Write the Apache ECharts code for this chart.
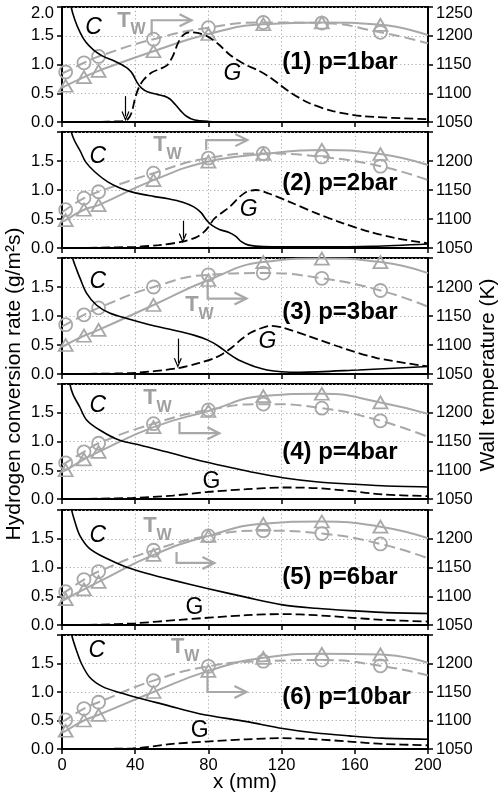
<!DOCTYPE html>
<html><head><meta charset="utf-8">
<script src="https://cdn.jsdelivr.net/npm/echarts@6/dist/echarts.min.js"></script>
<style>html,body{margin:0;padding:0;background:#fff}#c{width:500px;height:792px}</style>
</head><body><div id="c"></div>
<script>
// ---------- DATA ----------
const xTicks = [0, 40, 80, 120, 160, 200];
const leftTicks = [0, 0.5, 1.0, 1.5, 2.0];
const rightTicks = [1050, 1100, 1150, 1200, 1250];
const pressures = ['1', '2', '3', '4', '6', '10'];

// wall temperature (K) at these x (mm); markers at interior points
const twX = [0, 2, 12, 20, 50, 80, 110, 142, 174, 200];
const twCircle1 = [1134, 1137, 1153, 1164, 1194, 1214, 1223, 1222, 1206, 1187];
const twTriangle1 = [1109, 1113, 1128, 1139, 1173, 1203, 1220, 1223, 1219, 1201];
const twCircle2 = [1112, 1116, 1136, 1147, 1179, 1205, 1213, 1207, 1191, 1167];
const twTriangle2 = [1095, 1098, 1116, 1124, 1167, 1199, 1212, 1219, 1212, 1193];
const twCircle3 = [1132, 1135, 1152, 1164, 1200, 1221, 1224, 1215, 1194, 1166];
const twTriangle3 = [1097, 1100, 1116, 1126, 1169, 1212, 1243, 1249, 1243, 1224];
const twCircle4 = [1110, 1113, 1132, 1147, 1181, 1205, 1215, 1208, 1186, 1158];
const twTriangle4 = [1097, 1100, 1119, 1132, 1175, 1203, 1229, 1233, 1218, 1198];
const twCircle5 = [1105, 1108, 1129, 1143, 1180, 1205, 1214, 1209, 1191, 1166];
const twTriangle5 = [1092, 1095, 1112, 1125, 1172, 1205, 1226, 1230, 1221, 1201];
const twCircle6 = [1098, 1101, 1121, 1132, 1170, 1195, 1204, 1206, 1196, 1179];
const twTriangle6 = [1079, 1082, 1100, 1110, 1150, 1187, 1210, 1217, 1216, 1201];

// hydrogen conversion rate C (solid) and G (dashed), [x (mm), g/m2s]
const cRate1 = [[0,3.2],[3,2.4],[5,2.0],[7,1.78],[10,1.55],[13,1.39],[17,1.26],[22,1.15],[28,1.07],[33,0.99],[36,0.93],[38.5,0.84],[41,0.69],[43.5,0.59],[47,0.52],[52,0.48],[56,0.45],[59,0.40],[62,0.30],[65,0.19],[68,0.10],[72,0.04],[80,0.01],[90,0],[200,0]];
const gRate1 = [[0,0],[20,0.003],[30,0.01],[34,0.02],[36,0.05],[38,0.16],[40,0.42],[42,0.60],[44.5,0.73],[49,0.86],[54,0.93],[57.5,0.99],[60.5,1.14],[63.5,1.38],[66.5,1.52],[70,1.56],[74,1.55],[80,1.48],[86,1.34],[92,1.16],[100,1.0],[107,0.9],[113,0.79],[119,0.65],[125,0.51],[135,0.33],[148,0.19],[165,0.10],[200,0.05]];
const cRate2 = [[0,3.2],[3,2.4],[5.1,2.0],[7,1.84],[10,1.67],[13,1.48],[18,1.31],[25,1.14],[32,1.03],[40,0.95],[50,0.89],[58,0.85],[66,0.79],[72,0.71],[76,0.61],[79,0.48],[82,0.39],[86,0.32],[91,0.27],[95,0.2],[98,0.11],[102,0.05],[110,0.025],[140,0.02],[170,0.03],[200,0.07]];
const gRate2 = [[0,0],[20,0.005],[40,0.02],[53,0.05],[66,0.11],[73,0.18],[77,0.26],[80,0.36],[83,0.5],[87,0.6],[92,0.72],[97,0.88],[101,0.97],[106,1.0],[113,0.94],[124,0.80],[138.8,0.6],[153.3,0.43],[168,0.28],[182.4,0.17],[200,0.08]];
const cRate3 = [[0,3.2],[3,2.45],[5.8,2.0],[8,1.8],[10,1.64],[13.3,1.40],[18.8,1.19],[26,1.05],[35,0.96],[47.8,0.85],[60.5,0.76],[72,0.67],[80,0.58],[86,0.47],[91,0.35],[96,0.25],[101,0.18],[106,0.12],[112,0.07],[120,0.04],[130,0.03],[162,0.07],[200,0.13]];
const gRate3 = [[0,0],[20,0.005],[40,0.02],[63.3,0.10],[75,0.19],[83,0.27],[88,0.35],[93,0.46],[98,0.6],[103,0.71],[108,0.78],[114,0.83],[120.6,0.80],[135,0.65],[153.3,0.45],[171.5,0.28],[200,0.13]];
const cRate4 = [[0,3.1],[2.5,2.35],[4.3,2.0],[6,1.82],[9.7,1.60],[13.3,1.38],[20.6,1.20],[31.5,1.02],[42.4,0.94],[57,0.82],[75,0.67],[93.3,0.54],[105,0.46],[120.6,0.37],[138.8,0.30],[157,0.26],[175,0.23],[200,0.21]];
const gRate4 = [[0,0],[20,0.005],[38.7,0.02],[60.5,0.06],[78.8,0.12],[100.6,0.17],[120.6,0.20],[138.8,0.19],[157,0.14],[175,0.08],[200,0.05]];
const cRate5 = [[0,3.1],[2.5,2.4],[5,2.03],[7,1.80],[9.7,1.56],[15.1,1.33],[24.2,1.16],[35,1.01],[46,0.90],[60.5,0.78],[78.8,0.64],[101,0.48],[120.6,0.35],[138.8,0.29],[157,0.25],[175,0.22],[200,0.20]];
const gRate5 = [[0,0],[20,0.005],[40,0.03],[64.2,0.09],[100.6,0.17],[120.6,0.19],[138.8,0.17],[157,0.13],[175,0.09],[200,0.06]];
const cRate6 = [[0,3.1],[3,2.45],[5.3,2.0],[7.9,1.73],[10.6,1.50],[15.1,1.26],[22.4,1.09],[31.5,0.99],[42.4,0.89],[57,0.77],[75,0.62],[101,0.48],[120.6,0.36],[138.8,0.28],[157,0.23],[175,0.19],[200,0.17]];
const gRate6 = [[0,0],[20,0.003],[38.7,0.01],[60.5,0.09],[78.8,0.13],[100.6,0.17],[120.6,0.19],[138.8,0.17],[157,0.13],[175,0.09],[200,0.065]];

// onset arrows [x, from, to] in g/m2s units (panels 1-3)
const onsetArrows = [[34.7, 0.45, 0.10], [66, 0.47, 0.17], [63.3, 0.61, 0.19]];

// annotation anchors in data units (x mm, g/m2s)
const cLabelPos = [[17.3,1.65],[19.5,1.57],[19.5,1.59],[19.5,1.63],[19.5,1.55],[19,1.72]];
const gLabelPos = [[93.1,0.85],[102,0.67],[112.2,0.56],[81.7,0.31],[72.4,0.30],[75.2,0.32]];
const gItalic = [true, true, true, false, false, false];
const twLabelPos = [[33.9,1.765],[53.6,1.78],[71,1.19],[48.1,1.75],[48.1,1.72],[63.2,1.79]];
// bracket: [x, yStart, yCorner, xEnd]
const twBracket = [[49,1.50,1.77,70.8],[78.8,1.69,1.86,101.3],[79.6,1.62,1.30,100.8],[64.2,1.34,1.145,86],[62.6,1.27,1.08,83.3],[79.5,1.39,1.0,100.8]];
const pLabelPos = [[120.3,1.04],[120.3,1.12],[120.3,1.07],[120.3,0.81],[120.3,0.83],[120.3,0.91]];

const twCircles = [twCircle1, twCircle2, twCircle3, twCircle4, twCircle5, twCircle6];
const twTriangles = [twTriangle1, twTriangle2, twTriangle3, twTriangle4, twTriangle5, twTriangle6];
const cRates = [cRate1, cRate2, cRate3, cRate4, cRate5, cRate6];
const gRates = [gRate1, gRate2, gRate3, gRate4, gRate5, gRate6];

// ---------- LAYOUT / STYLE ----------
const FONT = 'Liberation Sans, Arial, Helvetica, sans-serif';
const GRAY = '#a8a8a8';
const TXTGRAY = '#a0a0a0';
const tops = [7, 132, 258, 384, 510, 635];
const heights = [115, 116, 116, 115, 115, 114];
const ARROW = 'path://M0,10 L5,0 L10,10 L8.6,10.6 L5,3.2 L1.4,10.6 Z';

const chart = echarts.init(document.getElementById('c'), null, {renderer: 'canvas', width: 500, height: 792});

const grids = [], xAxes = [], yAxes = [], series = [];
const axisLineStyle = {color: '#000', width: 2};
const tickStyle = {show: true, inside: false, length: 5, lineStyle: {color: '#000', width: 1.5}};
const labelBase = {color: '#000', fontSize: 16.5, fontFamily: FONT, margin: 8};

function twData(arr) {
  return twX.map((x, k) => (k === 0 || k === twX.length - 1) ? {value: [x, arr[k]], symbol: 'none'} : [x, arr[k]]);
}

for (let i = 0; i < 6; i++) {
  grids.push({left: 62, width: 366, top: tops[i], height: heights[i], show: true,
    borderColor: '#000', borderWidth: 2, backgroundColor: 'transparent', containLabel: false, outerBoundsMode: 'none'});
  xAxes.push({type: 'value', gridIndex: i, min: xTicks[0], max: xTicks[xTicks.length - 1], interval: 40,
    axisLine: {show: true, onZero: false, lineStyle: axisLineStyle},
    axisTick: tickStyle,
    axisLabel: Object.assign({show: i === 5, formatter: v => xTicks.includes(v) ? String(v) : ''}, labelBase),
    splitLine: {show: true, lineStyle: {type: [1.2, 2.6], color: '#aaaaaa', width: 1}}});
  yAxes.push({type: 'value', gridIndex: i, position: 'left', min: 0, max: 2, interval: 0.5,
    axisLine: {show: true, onZero: false, lineStyle: axisLineStyle},
    axisTick: tickStyle,
    axisLabel: Object.assign({
      formatter: v => v === 2 ? (i === 0 ? '{top|' + leftTicks[4].toFixed(1) + '}' : '') : v.toFixed(1),
      rich: {top: {padding: [12, 0, 0, 0], fontSize: 16.5, fontFamily: FONT, color: '#000'}}
    }, labelBase),
    splitLine: {show: true, lineStyle: {type: [1.2, 2.6], color: '#aaaaaa', width: 1}}});
  yAxes.push({type: 'value', gridIndex: i, position: 'right', min: 1050, max: 1250, interval: 50,
    axisLine: {show: true, onZero: false, lineStyle: axisLineStyle},
    axisTick: tickStyle,
    axisLabel: Object.assign({
      formatter: v => v === 1250 ? (i === 0 ? '{top|' + rightTicks[4] + '}' : '') : String(v),
      rich: {top: {padding: [12, 0, 0, 0], fontSize: 16.5, fontFamily: FONT, color: '#000'}}
    }, labelBase),
    splitLine: {show: false}});

  series.push({type: 'line', xAxisIndex: i, yAxisIndex: 2 * i + 1, data: twData(twCircles[i]),
    smooth: 0.5, symbol: 'circle', symbolSize: 13, showSymbol: true,
    lineStyle: {color: GRAY, width: 2, type: [11, 5]},
    itemStyle: {color: 'rgba(255,255,255,0)', borderColor: GRAY, borderWidth: 1.8},
    z: 2, silent: true, animation: false});
  series.push({type: 'line', xAxisIndex: i, yAxisIndex: 2 * i + 1, data: twData(twTriangles[i]),
    smooth: 0.5, symbol: 'triangle', symbolSize: [14, 12], showSymbol: true,
    lineStyle: {color: GRAY, width: 2},
    itemStyle: {color: 'rgba(255,255,255,0)', borderColor: GRAY, borderWidth: 1.8},
    z: 2, silent: true, animation: false});
  series.push({type: 'line', xAxisIndex: i, yAxisIndex: 2 * i, data: cRates[i],
    smooth: 0.3, showSymbol: false, symbol: 'none', clip: true,
    lineStyle: {color: '#000', width: 1.6}, z: 3, silent: true, animation: false});
  const gSeries = {type: 'line', xAxisIndex: i, yAxisIndex: 2 * i, data: gRates[i],
    smooth: 0.3, showSymbol: false, symbol: 'none', clip: true,
    lineStyle: {color: '#000', width: 1.8, type: [9, 4]}, z: 3, silent: true, animation: false};
  if (i < 3) {
    const a = onsetArrows[i];
    gSeries.markLine = {silent: true, animation: false, symbol: ['none', ARROW], symbolSize: [8, 10],
      lineStyle: {color: '#000', width: 1.2, type: 'solid'}, label: {show: false},
      data: [[{coord: [a[0], a[1]]}, {coord: [a[0], a[2]]}]]};
  }
  series.push(gSeries);
}

chart.setOption({animation: false, backgroundColor: '#fff', grid: grids, xAxis: xAxes, yAxis: yAxes, series: series});

// ---------- ANNOTATIONS (data coords -> pixels) ----------
const gfx = [];
for (let i = 0; i < 6; i++) {
  const conv = p => chart.convertToPixel({seriesIndex: 4 * i + 2}, p);
  const c = conv(cLabelPos[i]);
  gfx.push({type: 'text', x: c[0], y: c[1], z: 100, style: {text: 'C', fontSize: 23, fontStyle: 'italic', fontFamily: FONT, fill: '#000', align: 'center', verticalAlign: 'middle'}});
  const g = conv(gLabelPos[i]);
  gfx.push({type: 'text', x: g[0], y: g[1], z: 100, style: {text: 'G', fontSize: 23, fontStyle: gItalic[i] ? 'italic' : 'normal', fontFamily: FONT, fill: '#000', align: 'center', verticalAlign: 'middle'}});
  const t = conv(twLabelPos[i]);
  gfx.push({type: 'text', x: t[0], y: t[1], z: 100, style: {text: 'T', fontSize: 22, fontWeight: 'bold', fontFamily: FONT, fill: TXTGRAY, align: 'center', verticalAlign: 'middle'}});
  gfx.push({type: 'text', x: t[0] + 6.5, y: t[1] + 9.5, z: 100, style: {text: 'W', fontSize: 16, fontWeight: 'bold', fontFamily: FONT, fill: TXTGRAY, align: 'left', verticalAlign: 'middle'}});
  const b = twBracket[i];
  const p0 = conv([b[0], b[1]]), p1 = conv([b[0], b[2]]), p2 = conv([b[3], b[2]]);
  gfx.push({type: 'polyline', z: 99, shape: {points: [p0, p1, p2]}, style: {stroke: GRAY, lineWidth: 2.2, fill: null}});
  gfx.push({type: 'polyline', z: 99, shape: {points: [[p2[0] - 12, p2[1] - 6], [p2[0], p2[1]], [p2[0] - 12, p2[1] + 6]]}, style: {stroke: GRAY, lineWidth: 2.2, fill: null}});
  const pl = conv(pLabelPos[i]);
  gfx.push({type: 'text', x: pl[0], y: pl[1], z: 100, style: {text: '(' + (i + 1) + ') p=' + pressures[i] + 'bar', fontSize: 24, fontWeight: 'bold', fontFamily: FONT, fill: '#000', align: 'left', verticalAlign: 'middle'}});
}
// axis titles
const bottomMid = chart.convertToPixel({seriesIndex: 22}, [100, 0]);
gfx.push({type: 'text', x: bottomMid[0], y: bottomMid[1] + 33, z: 100, style: {text: 'x (mm)', fontSize: 20.5, fontFamily: FONT, fill: '#000', align: 'center', verticalAlign: 'middle'}});
gfx.push({type: 'text', x: 14, y: 384, rotation: Math.PI / 2, z: 100, style: {text: 'Hydrogen conversion rate (g/m²s)', fontSize: 21, fontFamily: FONT, fill: '#000', align: 'center', verticalAlign: 'middle'}});
gfx.push({type: 'text', x: 488, y: 375, rotation: Math.PI / 2, z: 100, style: {text: 'Wall temperature (K)', fontSize: 21, fontFamily: FONT, fill: '#000', align: 'center', verticalAlign: 'middle'}});
chart.setOption({graphic: gfx});
</script>
</body></html>
